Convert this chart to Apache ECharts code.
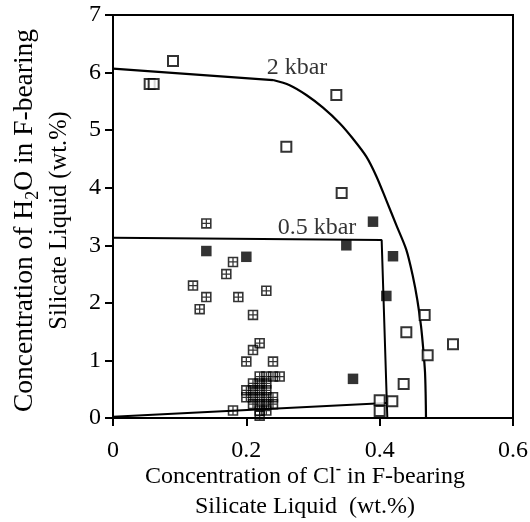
<!DOCTYPE html>
<html>
<head>
<meta charset="utf-8">
<script src="https://cdn.jsdelivr.net/npm/echarts@6/dist/echarts.min.js"></script>
<style>
  html, body { margin: 0; padding: 0; background: #fff; }
  #chart { width: 530px; height: 522px; }
</style>
</head>
<body>
<div id="chart"></div>
<script>
// tick labels
const xTicks = [0, 0.2, 0.4, 0.6];
const yTicks = [0, 1, 2, 3, 4, 5, 6, 7];

// open squares
const openX = [0.09, 0.055, 0.061, 0.335, 0.26, 0.343, 0.4675, 0.44, 0.51, 0.472, 0.436, 0.419, 0.40, 0.40];
const openY = [6.2, 5.8, 5.8, 5.61, 4.71, 3.91, 1.79, 1.49, 1.28, 1.09, 0.59, 0.29, 0.31, 0.12];

// filled squares
const filledX = [0.14, 0.20, 0.39, 0.35, 0.42, 0.41, 0.36];
const filledY = [2.90, 2.80, 3.41, 3.00, 2.81, 2.12, 0.68];

// crossed squares
const crossX = [0.14, 0.18, 0.17, 0.12, 0.14, 0.13, 0.188, 0.23, 0.21, 0.22, 0.21, 0.20, 0.24,
  0.22, 0.23, 0.24, 0.25,
  0.21, 0.22, 0.23,
  0.20, 0.21, 0.22, 0.23,
  0.20, 0.21, 0.22, 0.23, 0.24,
  0.21, 0.22, 0.23, 0.24,
  0.18, 0.22, 0.23,
  0.22];
const crossY = [3.38, 2.71, 2.50, 2.30, 2.10, 1.89, 2.10, 2.21, 1.79, 1.30, 1.18, 0.98, 0.98,
  0.72, 0.72, 0.72, 0.72,
  0.60, 0.60, 0.60,
  0.48, 0.48, 0.48, 0.48,
  0.36, 0.36, 0.36, 0.36, 0.36,
  0.24, 0.24, 0.24, 0.24,
  0.13, 0.13, 0.13,
  0.04];

// 2 kbar curve
const kbar2StraightX = [0, 0.24];
const kbar2StraightY = [6.07, 5.87];
const kbar2CurveX = [0.24, 0.265, 0.29, 0.315, 0.34, 0.36, 0.38, 0.395, 0.41, 0.425, 0.44, 0.45, 0.4565, 0.462, 0.4655, 0.468, 0.469, 0.4695];
const kbar2CurveY = [5.87, 5.78, 5.61, 5.39, 5.12, 4.85, 4.54, 4.2, 3.78, 3.35, 2.92, 2.45, 2.05, 1.6, 1.18, 0.8, 0.4, 0];

// 0.5 kbar outline
const kbar05TopX = [0, 0.403, 0.4115];
const kbar05TopY = [3.13, 3.09, 0];
const kbar05BottomX = [0, 0.41];
const kbar05BottomY = [0.02, 0.26];

// curve labels
const curveLabels = ['2 kbar', '0.5 kbar'];
const curveLabelX = [0.276, 0.306];
const curveLabelY = [6.08, 3.30];

const zip = (xs, ys) => xs.map((x, i) => [x, ys[i]]);

const FONT = '"Liberation Serif", "Times New Roman", serif';
const crossPath = 'path://M0,0L10,0L10,10L0,10Z' +
  'M1.5,1.5L1.5,4.4L4.4,4.4L4.4,1.5Z' +
  'M5.6,1.5L5.6,4.4L8.5,4.4L8.5,1.5Z' +
  'M1.5,5.6L1.5,8.5L4.4,8.5L4.4,5.6Z' +
  'M5.6,5.6L5.6,8.5L8.5,8.5L8.5,5.6Z';

const chart = echarts.init(document.getElementById('chart'));

const lineStyle = (w) => ({ color: '#000', width: w });

const option = {
  animation: false,
  backgroundColor: '#fff',
  textStyle: { fontFamily: FONT, color: '#000' },
  grid: {
    left: 113, right: 17, top: 15, bottom: 104,
    outerBoundsMode: 'none',
    containLabel: false,
    show: true, borderColor: '#000', borderWidth: 2
  },
  xAxis: {
    type: 'value', min: 0, max: 0.6, interval: 0.2,
    axisLine: { show: true, onZero: false, lineStyle: { color: '#000', width: 2 } },
    axisTick: { show: true, inside: false, length: 8, lineStyle: { color: '#000', width: 2 } },
    splitLine: { show: false },
    axisLabel: {
      margin: 21, fontSize: 24, fontFamily: FONT, color: '#000',
      formatter: (v) => String(xTicks.find(t => Math.abs(t - v) < 1e-6) ?? '')
    },
    name: '{a|Concentration of Cl}{sup|-}{a| in F-bearing}\n{a|Silicate Liquid  (wt.%)}',
    nameLocation: 'middle',
    nameGap: 44,
    nameMoveOverlap: false,
    nameTextStyle: {
      fontFamily: FONT, color: '#000', align: 'center', verticalAlign: 'top',
      padding: [0, 16, 0, 0],
      rich: {
        a: { fontSize: 24, fontFamily: FONT, color: '#000', lineHeight: 30, verticalAlign: 'middle' },
        sup: { fontSize: 16, fontFamily: FONT, color: '#000', lineHeight: 30, verticalAlign: 'top', fontWeight: 'bold' }
      }
    }
  },
  yAxis: {
    type: 'value', min: 0, max: 7, interval: 1,
    axisLine: { show: true, onZero: false, lineStyle: { color: '#000', width: 2 } },
    axisTick: { show: true, inside: false, length: 8, lineStyle: { color: '#000', width: 2 } },
    splitLine: { show: false },
    axisLabel: {
      margin: 12, fontSize: 24, fontFamily: FONT, color: '#000',
      formatter: (v) => String(yTicks.find(t => Math.abs(t - v) < 1e-6) ?? '')
    },
    name: '{b|Concentration of H}{sub|2}{b|O in F-bearing}\n{a|Silicate Liquid (wt.%)}',
    nameLocation: 'middle',
    nameRotate: 90,
    nameGap: 36,
    nameMoveOverlap: false,
    nameTextStyle: {
      fontFamily: FONT, color: '#000',
      padding: [0, 8, 0, 0],
      rich: {
        b: { fontSize: 27.5, fontFamily: FONT, color: '#000', lineHeight: 35, verticalAlign: 'middle' },
        a: { fontSize: 24.5, fontFamily: FONT, color: '#000', lineHeight: 35, verticalAlign: 'middle' },
        sub: { fontSize: 18, fontFamily: FONT, color: '#000', lineHeight: 35, verticalAlign: 'bottom' }
      }
    }
  },
  series: [
    {
      type: 'line', data: zip(kbar2StraightX, kbar2StraightY),
      symbol: 'none', lineStyle: lineStyle(2.2), z: 3, silent: true
    },
    {
      type: 'line', data: zip(kbar2CurveX, kbar2CurveY), smooth: 0.3,
      symbol: 'none', lineStyle: lineStyle(2.2), z: 3, silent: true
    },
    {
      type: 'line', data: zip(kbar05TopX, kbar05TopY),
      symbol: 'none', lineStyle: lineStyle(2), z: 3, silent: true
    },
    {
      type: 'line', data: zip(kbar05BottomX, kbar05BottomY),
      symbol: 'none', lineStyle: lineStyle(2), z: 3, silent: true
    },
    {
      type: 'scatter', data: zip(openX, openY),
      symbol: 'rect', symbolSize: 10,
      itemStyle: { color: '#fff', borderColor: '#000', borderWidth: 2 }, z: 4
    },
    {
      type: 'scatter', data: zip(filledX, filledY),
      symbol: 'rect', symbolSize: 10.5,
      itemStyle: { color: '#000' }, z: 4
    },
    {
      type: 'scatter', data: zip(crossX, crossY),
      symbol: crossPath, symbolSize: 10.5,
      itemStyle: { color: '#000' }, z: 4
    },
    {
      type: 'scatter', data: zip(curveLabelX, curveLabelY).map((p, i) => ({ value: p, name: curveLabels[i] })),
      symbolSize: 0, silent: true, z: 5,
      label: {
        show: true, position: 'inside', formatter: (p) => p.name,
        fontSize: 24, fontFamily: FONT, color: '#000'
      }
    }
  ]
};

chart.setOption(option);
</script>
</body>
</html>
